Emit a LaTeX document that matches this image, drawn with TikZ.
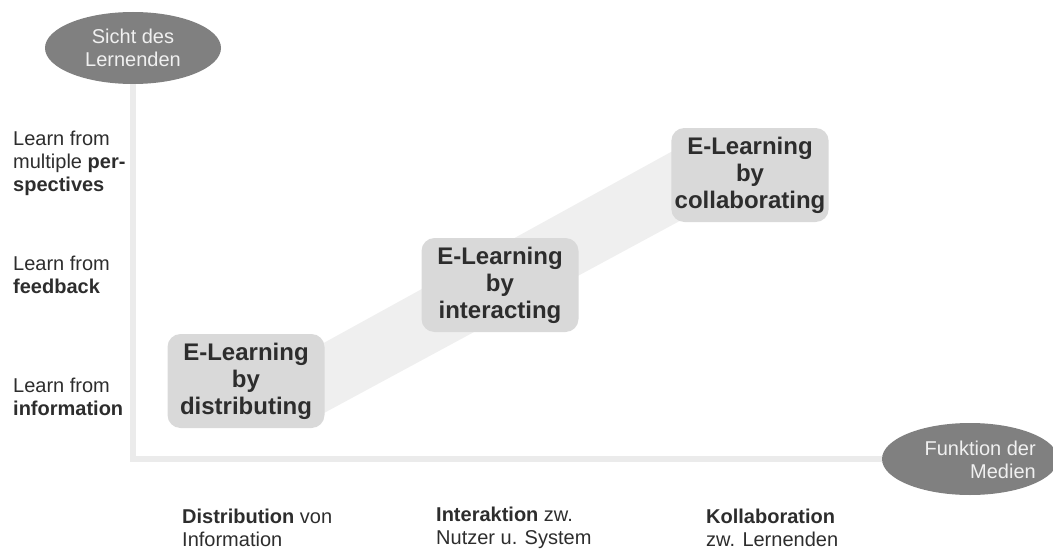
\documentclass[tikz,border=0pt]{standalone}
\usepackage{fontspec}
\setmainfont{Liberation Sans}
\usetikzlibrary{shapes.geometric}
\usetikzlibrary{positioning}

\definecolor{axisgray}{RGB}{235,235,235}
\definecolor{bandgray}{RGB}{239,239,239}
\definecolor{boxgray}{RGB}{217,217,217}
\definecolor{ovalgray}{RGB}{128,128,128}
\definecolor{txtgray}{RGB}{45,45,45}

\begin{document}
\begin{tikzpicture}[x=1pt, y=-1pt,
  oval/.style={ellipse, fill=ovalgray, text=white!94!black, inner sep=0pt,
    minimum width=176, minimum height=72, align=center,
    font=\fontsize{20}{23}\selectfont},
  axisline/.style={draw=axisgray, line width=6pt},
  elbox/.style={fill=boxgray, rounded corners=13pt, minimum width=157,
    minimum height=94, align=center, text=txtgray,
    font=\fontsize{24}{27}\selectfont\bfseries},
  lbl/.style={anchor=west, align=left, inner sep=0pt, text=txtgray,
    font=\fontsize{20}{23}\selectfont}]

 \useasboundingbox (0,0) rectangle (1053,551);

 %band
 \fill[bandgray] (300,356) -- (700,136) -- (700,210) -- (300,426) -- cycle;

 %axes
 \node[oval] (sicht) at (133,48) {Sicht des\\Lernenden};
 \node[oval] (funktion) at (970,459) {};
 \node[anchor=east, align=right, inner sep=0pt, text=white!94!black,
   font=\fontsize{20}{23}\selectfont] (funktxt) at (1036,460) {Funktion der\\Medien};
 \draw[axisline] (sicht) |- (funktion);

 %boxes
 \foreach \i/\x/\y/\name in {1/246/381/distributing, 2/500/285/interacting, 3/750/175/collaborating} {
   \node[elbox] (box\i) at (\x,\y) {E-Learning\\by\\\name};
 }

 %left labels
 \foreach \i/\y/\name in {1/397/Learn from\\\textbf{information}, 2/275/Learn from\\\textbf{feedback}, 3/163/Learn from\\multiple \textbf{per-}\\\textbf{spectives}} {
   \node[lbl] (learn\i) at (13,\y) {\name};
 }

 %bottom labels
 \foreach \i/\x/\name in {1/182/\textbf{Distribution} von\\Information, 2/436/\textbf{Interaktion} zw.\\Nutzer u. System, 3/706/\textbf{Kollaboration}\\zw. Lernenden} {
   \node[lbl] (medium\i) at (\x,528) {\name};
 }

\end{tikzpicture}
\end{document}
